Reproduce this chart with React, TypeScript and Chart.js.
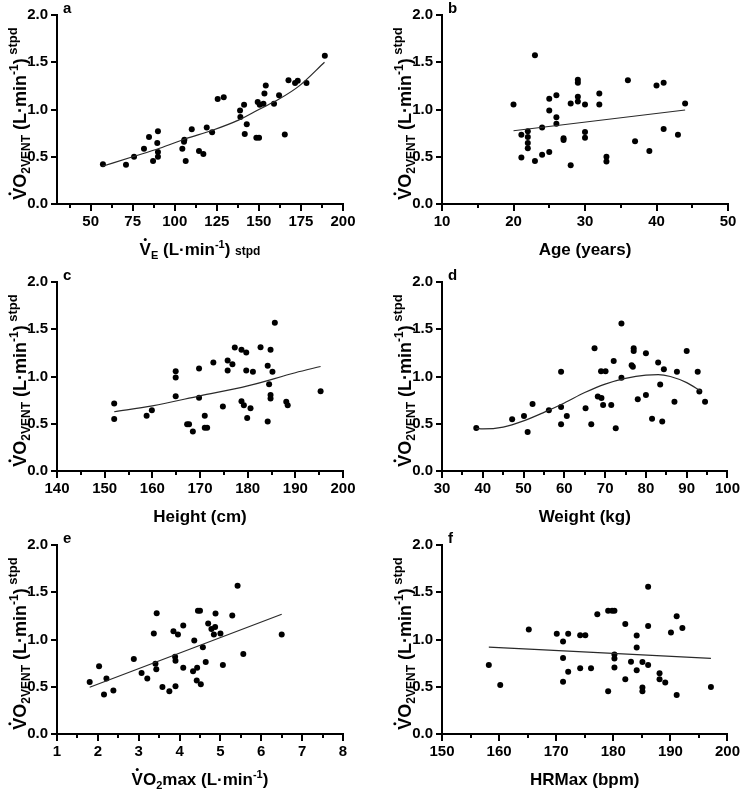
import React, { useEffect, useRef } from 'react';
import { Chart, registerables } from 'chart.js';

Chart.register(...registerables);

const FONT = '"Liberation Sans", Arial, Helvetica, sans-serif';

// ---------- data ----------
// y axis (all panels): VO2VENT (L·min-1) stpd
const yTicks = [0, 0.5, 1.0, 1.5, 2.0];

// a: VE
const veX = [57.3, 71, 75.8, 81.7, 84.7, 87.1, 90, 89.6, 90, 90, 104.5, 105.5, 105.7, 106.5, 110.1, 114.4, 117, 119, 122.2, 125.5, 129.1, 138.8, 139, 141.2, 141.6, 142.8, 148.5, 150.1, 149.3, 150.5, 152.7, 153.3, 154.1, 159, 162, 165.4, 167.6, 171.5, 173.1, 178.3, 189.2];
const veY = [0.42, 0.415, 0.5, 0.585, 0.71, 0.455, 0.77, 0.645, 0.55, 0.5, 0.585, 0.66, 0.68, 0.455, 0.79, 0.56, 0.53, 0.81, 0.76, 1.11, 1.13, 0.99, 0.92, 1.05, 0.74, 0.845, 0.7, 0.7, 1.08, 1.05, 1.06, 1.17, 1.255, 1.06, 1.15, 0.735, 1.31, 1.28, 1.305, 1.28, 1.57];
const veFitX = [57, 75, 91, 106.5, 122.4, 138.2, 150, 162, 174, 189];
const veFitY = [0.4, 0.5, 0.59, 0.69, 0.78, 0.89, 1.0, 1.11, 1.25, 1.5];
const veMajor = [50, 75, 100, 125, 150, 175, 200];
const veMinor = [37.5, 62.5, 87.5, 112.5, 137.5, 162.5, 187.5];

// b: Age
const ageX = [20, 21.1, 21.1, 22, 22, 22, 22, 23, 23, 24, 24, 25, 25, 25, 26, 26, 26, 27, 27, 28, 28, 29, 29, 29, 29, 30, 30, 30, 32, 32, 33, 33, 36, 37, 39, 40, 41, 41, 43, 44];
const ageY = [1.053, 0.734, 0.493, 0.77, 0.71, 0.645, 0.59, 1.574, 0.454, 0.81, 0.52, 1.113, 0.99, 0.55, 1.15, 0.918, 0.848, 0.695, 0.677, 0.411, 1.064, 1.316, 1.284, 1.135, 1.085, 1.053, 0.762, 0.7, 1.17, 1.053, 0.5, 0.45, 1.31, 0.663, 0.56, 1.255, 1.284, 0.794, 0.734, 1.064];
const ageFitX = [20, 44];
const ageFitY = [0.775, 0.995];
const ageMajor = [10, 20, 30, 40, 50];
const ageMinor = [15, 25, 35, 45];

// c: Height
const heightX = [152, 152, 158.8, 159.9, 164.9, 164.9, 164.9, 167.3, 167.7, 168.5, 169.8, 169.8, 171, 171, 171.5, 172.8, 174.8, 175.8, 175.8, 176.8, 177.3, 178.7, 178.7, 179.2, 179.7, 179.7, 179.9, 180.6, 181.1, 182.7, 184.2, 184.2, 184.5, 184.8, 184.8, 184.8, 185.2, 185.7, 188.1, 188.4, 195.3];
const heightY = [0.715, 0.549, 0.585, 0.644, 1.056, 0.989, 0.792, 0.496, 0.496, 0.419, 1.085, 0.775, 0.585, 0.458, 0.458, 1.148, 0.683, 1.169, 1.063, 1.13, 1.306, 1.282, 0.739, 0.697, 1.254, 1.063, 0.56, 0.665, 1.049, 1.31, 1.113, 0.525, 0.919, 1.282, 0.803, 0.768, 1.049, 1.57, 0.732, 0.697, 0.845];
const heightFitX = [152, 160, 170, 180, 190, 195.3];
const heightFitY = [0.627, 0.69, 0.795, 0.9, 1.04, 1.106];
const heightMajor = [140, 150, 160, 170, 180, 190, 200];
const heightMinor = [145, 155, 165, 175, 185, 195];

// d: Weight
const weightX = [38.4, 47.2, 50.1, 51, 52.2, 56.2, 59.2, 59.2, 59.2, 60.6, 65.2, 66.6, 67.4, 68.2, 69, 69.1, 69.5, 70.1, 71.5, 72.1, 72.6, 74, 74, 76.5, 76.8, 77, 77, 78, 80, 80, 81.5, 83, 83.5, 84, 84.4, 87, 87.6, 90, 92.7, 93.1, 94.5];
const weightY = [0.456, 0.547, 0.582, 0.414, 0.709, 0.642, 1.049, 0.677, 0.495, 0.582, 0.663, 0.495, 1.298, 0.789, 1.056, 0.772, 0.698, 1.056, 0.698, 1.165, 0.453, 1.561, 0.986, 1.119, 1.102, 1.298, 1.27, 0.758, 1.246, 0.804, 0.554, 1.147, 0.916, 0.523, 1.077, 0.733, 1.049, 1.27, 1.049, 0.842, 0.733];
const weightFitX = [38.4, 40, 45, 50, 55, 60, 65, 70, 75, 80, 83, 86, 90, 93.5];
const weightFitY = [0.45, 0.445, 0.465, 0.53, 0.62, 0.72, 0.83, 0.92, 0.98, 1.015, 1.02, 1.0, 0.935, 0.845];
const weightMajor = [30, 40, 50, 60, 70, 80, 90, 100];
const weightMinor = [35, 45, 55, 65, 75, 85, 95];

// e: VO2max
const vo2maxX = [1.8, 2.03, 2.15, 2.21, 2.38, 2.88, 3.07, 3.21, 3.37, 3.41, 3.43, 3.44, 3.58, 3.75, 3.85, 3.89, 3.9, 3.9, 3.96, 4.09, 4.09, 4.36, 4.33, 4.43, 4.42, 4.45, 4.5, 4.52, 4.57, 4.64, 4.7, 4.78, 4.84, 4.87, 4.88, 5.0, 5.06, 5.29, 5.42, 5.56, 6.5];
const vo2maxY = [0.551, 0.716, 0.418, 0.586, 0.46, 0.793, 0.646, 0.586, 1.063, 0.744, 0.684, 1.277, 0.498, 0.453, 1.088, 0.818, 0.775, 0.505, 1.053, 0.702, 1.147, 0.989, 0.663, 0.702, 0.565, 1.305, 1.305, 0.526, 0.919, 0.761, 1.168, 1.112, 1.053, 1.133, 1.274, 1.063, 0.73, 1.253, 1.568, 0.846, 1.053];
const vo2maxFitX = [1.8, 6.5];
const vo2maxFitY = [0.495, 1.267];
const vo2maxMajor = [1, 2, 3, 4, 5, 6, 7, 8];
const vo2maxMinor = [1.5, 2.5, 3.5, 4.5, 5.5, 6.5, 7.5];

// f: HRMax
const hrX = [158.2, 160.2, 165.2, 170.1, 171.2, 171.2, 171.2, 172.1, 172.1, 174.2, 174.2, 175.1, 176.1, 177.2, 179.1, 179.1, 179.8, 180.2, 180.2, 180.2, 180.2, 182.1, 182.1, 183.1, 184.1, 184.1, 184.1, 185.1, 185.1, 185.1, 186.1, 186.1, 186.1, 188.1, 188.1, 189.1, 190.1, 191.1, 191.1, 192.1, 197.1];
const hrY = [0.73, 0.519, 1.105, 1.06, 0.979, 0.804, 0.554, 1.06, 0.66, 1.046, 0.695, 1.046, 0.695, 1.267, 0.453, 1.305, 1.305, 1.305, 0.842, 0.8, 0.705, 1.165, 0.579, 0.765, 1.042, 0.916, 0.674, 0.761, 0.491, 0.453, 1.558, 1.144, 0.73, 0.642, 0.579, 0.544, 1.074, 1.246, 0.414, 1.123, 0.498];
const hrFitX = [158.2, 197.1];
const hrFitY = [0.919, 0.8];
const hrMajor = [150, 160, 170, 180, 190, 200];
const hrMinor = [155, 165, 175, 185, 195];

// ---------- rich text ----------
type Seg = { t: string; s: number; dy: number; dot?: boolean };

const yTitle: Seg[] = [
  { t: 'V', s: 18, dy: 0, dot: true },
  { t: 'O', s: 18, dy: 0 },
  { t: '2VENT', s: 12, dy: 4 },
  { t: ' (L·min', s: 18, dy: 0 },
  { t: '-1', s: 12, dy: -8 },
  { t: ')', s: 18, dy: 0 },
  { t: ' stpd', s: 13, dy: -9 },
];

const titleA: Seg[] = [
  { t: 'V', s: 17, dy: 0, dot: true },
  { t: 'E', s: 11, dy: 4 },
  { t: ' (L·min', s: 17, dy: 0 },
  { t: '-1', s: 11, dy: -7 },
  { t: ') ', s: 17, dy: 0 },
  { t: 'stpd', s: 12, dy: 0 },
];
const titleB: Seg[] = [{ t: 'Age (years)', s: 17, dy: 0 }];
const titleC: Seg[] = [{ t: 'Height (cm)', s: 17, dy: 0 }];
const titleD: Seg[] = [{ t: 'Weight (kg)', s: 17, dy: 0 }];
const titleE: Seg[] = [
  { t: 'V', s: 17, dy: 0, dot: true },
  { t: 'O', s: 17, dy: 0 },
  { t: '2', s: 11, dy: 4 },
  { t: 'max (L·min', s: 17, dy: 0 },
  { t: '-1', s: 11, dy: -7 },
  { t: ')', s: 17, dy: 0 },
];
const titleF: Seg[] = [{ t: 'HRMax (bpm)', s: 17, dy: 0 }];

function drawRich(ctx: CanvasRenderingContext2D, segs: Seg[], cx: number, baseY: number) {
  let w = 0;
  for (const g of segs) {
    ctx.font = `bold ${g.s}px ${FONT}`;
    w += ctx.measureText(g.t).width;
  }
  let x = cx - w / 2;
  ctx.textAlign = 'left';
  ctx.textBaseline = 'alphabetic';
  ctx.fillStyle = '#000';
  for (const g of segs) {
    ctx.font = `bold ${g.s}px ${FONT}`;
    const gw = ctx.measureText(g.t).width;
    ctx.fillText(g.t, x, baseY + g.dy);
    if (g.dot) {
      ctx.beginPath();
      ctx.arc(x + gw / 2, baseY + g.dy - g.s * 0.72 - 3.2, 1.5, 0, Math.PI * 2);
      ctx.fill();
    }
    x += gw;
  }
}

// ---------- panels ----------
type PanelDef = {
  letter: string;
  xs: number[];
  ys: number[];
  fx: number[];
  fy: number[];
  min: number;
  max: number;
  major: number[];
  minor: number[];
  labelFrom: number;
  title: Seg[];
  left: number;
  top: number;
  w: number;
  h: number;
  area: { l: number; t: number; r: number; b: number };
};

const COL_L = { left: 0, l: 57, r: 343 };
const COL_R = { left: 371, l: 442, r: 728 };

const panels: PanelDef[] = [
  { letter: 'a', xs: veX, ys: veY, fx: veFitX, fy: veFitY, min: 30, max: 200, major: veMajor, minor: veMinor, labelFrom: 50, title: titleA, left: COL_L.left, top: 0, w: 371, h: 270, area: { l: COL_L.l, t: 15, r: COL_L.r, b: 204 } },
  { letter: 'b', xs: ageX, ys: ageY, fx: ageFitX, fy: ageFitY, min: 10, max: 50, major: ageMajor, minor: ageMinor, labelFrom: 10, title: titleB, left: COL_R.left, top: 0, w: 371, h: 270, area: { l: COL_R.l, t: 15, r: COL_R.r, b: 204 } },
  { letter: 'c', xs: heightX, ys: heightY, fx: heightFitX, fy: heightFitY, min: 140, max: 200, major: heightMajor, minor: heightMinor, labelFrom: 140, title: titleC, left: COL_L.left, top: 262, w: 371, h: 270, area: { l: COL_L.l, t: 282, r: COL_L.r, b: 471 } },
  { letter: 'd', xs: weightX, ys: weightY, fx: weightFitX, fy: weightFitY, min: 30, max: 100, major: weightMajor, minor: weightMinor, labelFrom: 30, title: titleD, left: COL_R.left, top: 262, w: 371, h: 270, area: { l: COL_R.l, t: 282, r: COL_R.r, b: 471 } },
  { letter: 'e', xs: vo2maxX, ys: vo2maxY, fx: vo2maxFitX, fy: vo2maxFitY, min: 1, max: 8, major: vo2maxMajor, minor: vo2maxMinor, labelFrom: 1, title: titleE, left: COL_L.left, top: 520, w: 371, h: 271, area: { l: COL_L.l, t: 545, r: COL_L.r, b: 734 } },
  { letter: 'f', xs: hrX, ys: hrY, fx: hrFitX, fy: hrFitY, min: 150, max: 200, major: hrMajor, minor: hrMinor, labelFrom: 150, title: titleF, left: COL_R.left, top: 520, w: 371, h: 271, area: { l: COL_R.l, t: 545, r: COL_R.r, b: 734 } },
];

function Panel({ p }: { p: PanelDef }) {
  const ref = useRef<HTMLCanvasElement | null>(null);
  useEffect(() => {
    if (!ref.current) return;
    const aL = p.area.l - p.left;
    const aT = p.area.t - p.top;
    const aR = p.area.r - p.left;
    const aB = p.area.b - p.top;

    const decor = {
      id: 'decor' + p.letter,
      afterDraw(chart: any) {
        const ctx: CanvasRenderingContext2D = chart.ctx;
        const xs = chart.scales.x;
        const ys = chart.scales.y;
        const a = chart.chartArea;
        ctx.save();
        ctx.strokeStyle = '#000';
        ctx.lineWidth = 2;
        ctx.beginPath();
        for (const v of yTicks) {
          const py = Math.round(ys.getPixelForValue(v));
          ctx.moveTo(a.left - 6, py);
          ctx.lineTo(a.left, py);
        }
        for (const v of p.major) {
          const px = Math.round(xs.getPixelForValue(v));
          ctx.moveTo(px, a.bottom);
          ctx.lineTo(px, a.bottom + 7);
        }
        for (const v of p.minor) {
          const px = Math.round(xs.getPixelForValue(v));
          ctx.moveTo(px, a.bottom);
          ctx.lineTo(px, a.bottom + 4);
        }
        ctx.stroke();

        drawRich(ctx, p.title, (a.left + a.right) / 2, a.bottom + 51);

        ctx.save();
        ctx.translate(a.left - 31, (a.top + a.bottom) / 2 + 4);
        ctx.rotate(-Math.PI / 2);
        drawRich(ctx, yTitle, 0, 0);
        ctx.restore();

        ctx.font = `bold 15px ${FONT}`;
        ctx.textAlign = 'left';
        ctx.textBaseline = 'alphabetic';
        ctx.fillStyle = '#000';
        ctx.fillText(p.letter, a.left + 6, a.top - 2);
        ctx.restore();
      },
    };

    const pts = p.xs.map((x, i) => ({ x, y: p.ys[i] }));
    const fit = p.fx.map((x, i) => ({ x, y: p.fy[i] }));
    const tickFont = { family: FONT, size: 15, weight: 'bold' as const };

    const chart = new Chart(ref.current, {
      type: 'scatter',
      data: {
        datasets: [
          {
            data: fit,
            showLine: true,
            pointRadius: 0,
            borderColor: '#2a2a2a',
            borderWidth: 1.2,
            fill: false,
            cubicInterpolationMode: 'monotone',
          } as any,
          {
            data: pts,
            showLine: false,
            pointRadius: 3,
            pointHoverRadius: 3,
            pointBorderWidth: 0,
            backgroundColor: '#000',
            borderColor: '#000',
          } as any,
        ],
      },
      options: {
        responsive: false,
        animation: false,
        events: [],
        layout: { padding: { left: 0, top: aT, right: p.w - aR, bottom: 0 } },
        plugins: { legend: { display: false }, tooltip: { enabled: false } },
        scales: {
          x: {
            type: 'linear',
            min: p.min,
            max: p.max,
            grid: { display: false, drawTicks: true, tickLength: 7 },
            border: { display: true, color: '#000', width: 2 },
            ticks: {
              autoSkip: false,
              maxRotation: 0,
              padding: 2,
              color: '#000',
              font: tickFont,
              callback: (v: any) => String(v),
            },
            afterBuildTicks: (s: any) => {
              s.ticks = p.major.filter((v) => v >= p.labelFrom).map((v) => ({ value: v }));
            },
            afterFit: (s: any) => {
              s.height = p.h - aB;
            },
          },
          y: {
            type: 'linear',
            min: 0,
            max: 2,
            grid: { display: false, drawTicks: true, tickLength: 6 },
            border: { display: true, color: '#000', width: 2 },
            ticks: {
              autoSkip: false,
              padding: 3,
              color: '#000',
              font: tickFont,
              callback: (v: any) => Number(v).toFixed(1),
            },
            afterBuildTicks: (s: any) => {
              s.ticks = yTicks.map((v) => ({ value: v }));
            },
            afterFit: (s: any) => {
              s.width = aL;
            },
          },
        },
      },
      plugins: [decor],
    });
    return () => chart.destroy();
  }, [p]);

  return (
    <canvas
      ref={ref}
      width={p.w}
      height={p.h}
      style={{ position: 'absolute', left: p.left, top: p.top, width: p.w, height: p.h }}
    />
  );
}

export default function App() {
  return (
    <div style={{ position: 'absolute', left: 0, top: 0, width: 742, height: 791, background: '#fff', overflow: 'hidden' }}>
      {panels.map((p) => (
        <Panel key={p.letter} p={p} />
      ))}
    </div>
  );
}
